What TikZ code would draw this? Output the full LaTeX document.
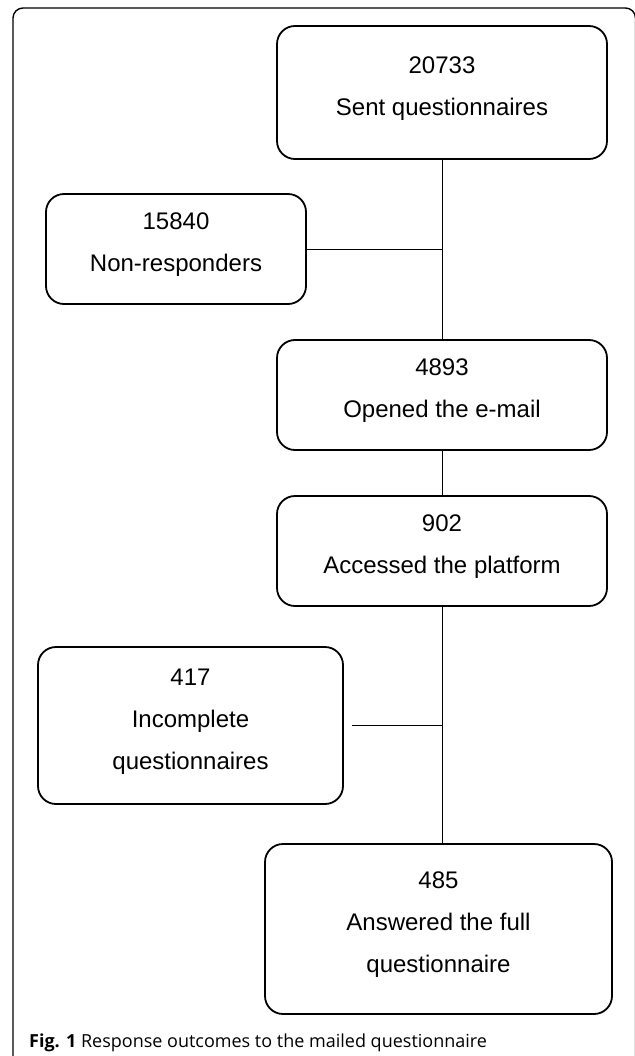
\documentclass[tikz,border=0pt]{standalone}
\usepackage{fontspec}
\setmainfont{Liberation Sans}
\newfontfamily\capfont{Open Sans}
\tikzset{
  stagebox/.style={draw, line width=1.8pt, rounded corners=18pt, align=center, inner sep=0pt,
    font=\fontsize{24}{42}\selectfont, execute at end node={\rule[-13pt]{0pt}{0pt}}},
  link/.style={draw, line width=0.9pt},
}

\begin{document}
\begin{tikzpicture}[x=1pt,y=-1pt]
\useasboundingbox (0,0) rectangle (634,1056);
\draw[line width=1.4pt, rounded corners=10pt] (13,1062) -- (13,8) -- (635.5,8) -- (635.5,1062);
\node[stagebox, minimum width=330pt, minimum height=133pt] (sent) at (442,92.5) {20733\\Sent questionnaires};
\node[stagebox, minimum width=260pt, minimum height=110pt] (nonresp) at (176,249) {15840\\Non-responders};
\node[stagebox, minimum width=330pt, minimum height=110pt] (opened) at (442,395) {4893\\Opened the e-mail};
\node[stagebox, minimum width=330pt, minimum height=110pt] (access) at (442,551) {902\\Accessed the platform};
\node[stagebox, minimum width=305pt, minimum height=157pt] (incompl) at (190.5,725.5) {417\\Incomplete\\questionnaires};
\node[stagebox, minimum width=347pt, minimum height=170pt] (answered) at (438.5,929) {485\\Answered the full\\questionnaire};
\draw[link] (sent) -- (opened);
\draw[link] (nonresp.east) -- (nonresp.east -| sent.south);
\draw[link] (opened) -- (access);
\draw[link] (access.south) -- (access.south |- answered.north);
\draw[link] ([xshift=8pt]incompl.east) -- (incompl.east -| access.south);
\node[anchor=base west, inner sep=0pt, font=\capfont\fontsize{18}{20}\selectfont] (caption) at (29,1047) {\textbf{Fig. 1} Response outcomes to the mailed questionnaire};
\end{tikzpicture}
\end{document}
